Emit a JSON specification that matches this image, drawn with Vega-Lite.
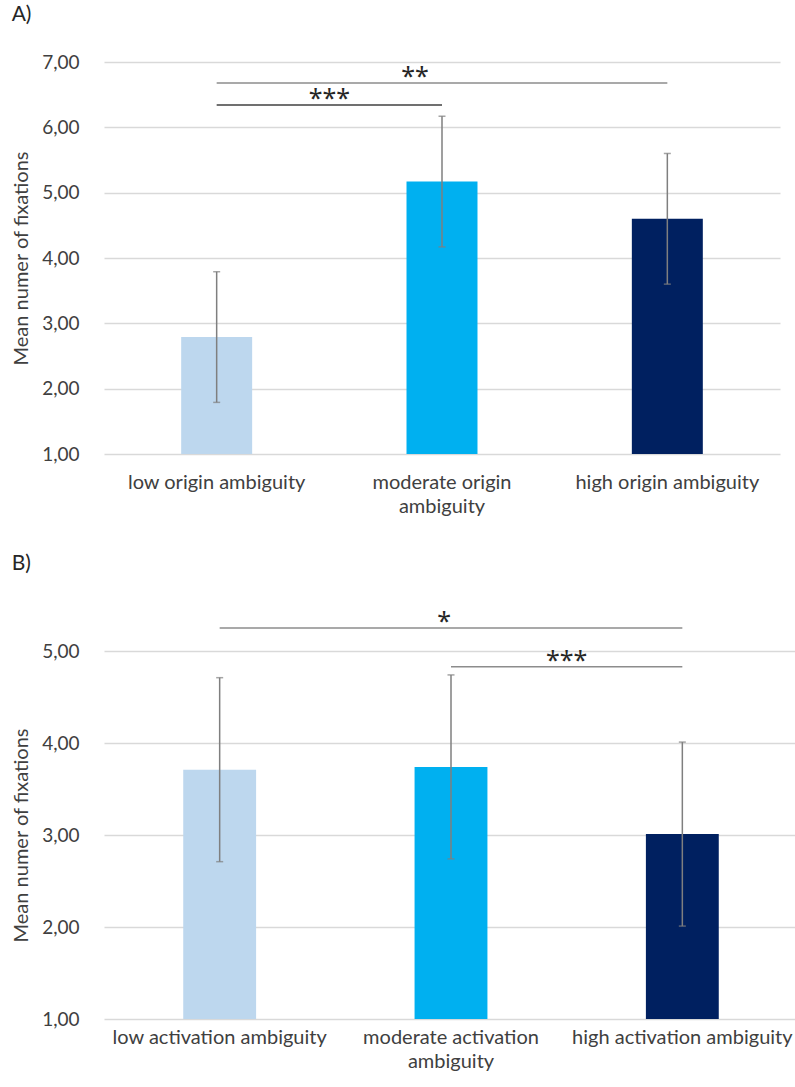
{
  "$schema": "https://vega.github.io/schema/vega-lite/v6.json",
  "padding": {"left": 11, "top": 4, "right": 0, "bottom": 0},
  "background": "white",
  "spacing": 37,
  "config": {
    "font": "Lato",
    "view": {"stroke": null},
    "axis": {
      "labelFont": "Lato",
      "titleFont": "Lato",
      "labelColor": "#404040",
      "titleColor": "#404040",
      "titleFontWeight": "normal",
      "ticks": false,
      "domain": false,
      "labelLimit": 0
    },
    "title": {"font": "Lato", "fontWeight": "normal", "fontSize": 21, "color": "#262626", "anchor": "start", "frame": "bounds"}
  },
  "datasets": {
    "a": [
      {"condition": "low origin ambiguity", "mean": 2.79, "lo": 1.79, "hi": 3.79},
      {"condition": "moderate origin ambiguity", "mean": 5.17, "lo": 4.17, "hi": 6.17},
      {"condition": "high origin ambiguity", "mean": 4.6, "lo": 3.6, "hi": 5.6}
    ],
    "sigA": [
      {"from": "low origin ambiguity", "to": "moderate origin ambiguity", "level": 6.34, "label": "***", "shade": "dark"},
      {"from": "low origin ambiguity", "to": "high origin ambiguity", "level": 6.68, "label": "**", "shade": "light"}
    ],
    "b": [
      {"condition": "low activation ambiguity", "mean": 3.71, "lo": 2.71, "hi": 4.71},
      {"condition": "moderate activation ambiguity", "mean": 3.74, "lo": 2.74, "hi": 4.74},
      {"condition": "high activation ambiguity", "mean": 3.01, "lo": 2.01, "hi": 4.01}
    ],
    "sigB": [
      {"from": "low activation ambiguity", "to": "high activation ambiguity", "level": 5.25, "label": "*"},
      {"from": "moderate activation ambiguity", "to": "high activation ambiguity", "level": 4.83, "label": "***"}
    ]
  },
  "vconcat": [
    {
      "title": {"text": "A)", "offset": 28},
      "width": 676,
      "height": 392,
      "layer": [
        {
          "data": {"name": "a"},
          "mark": {"type": "bar", "width": {"band": 0.315}},
          "encoding": {
            "x": {
              "field": "condition", "type": "nominal",
              "scale": {"domain": ["low origin ambiguity", "moderate origin ambiguity", "high origin ambiguity"], "paddingInner": 0, "paddingOuter": 0},
              "axis": {
                "title": null, "labelAngle": 0, "labelFontSize": 20, "labelPadding": 18, "labelLineHeight": 24,
                "labelExpr": "datum.value == 'moderate origin ambiguity' ? ['moderate origin', 'ambiguity'] : datum.value"
              }
            },
            "y": {
              "field": "mean", "type": "quantitative",
              "scale": {"domain": [1, 7], "zero": false, "nice": false},
              "axis": {
                "title": "Mean numer of fixations", "titleFontSize": 20, "titlePadding": 10,
                "labelFontSize": 19, "labelPadding": 25,
                "values": [1, 2, 3, 4, 5, 6, 7],
                "labelExpr": "replace(format(datum.value, '.2f'), '.', ',')",
                "grid": true, "gridColor": "#d9d9d9", "gridWidth": 1.3
              }
            },
            "y2": {"datum": 1},
            "color": {
              "field": "condition", "type": "nominal",
              "scale": {"domain": ["low origin ambiguity", "moderate origin ambiguity", "high origin ambiguity"], "range": ["#bdd7ee", "#00b0f0", "#002060"]},
              "legend": null
            }
          }
        },
        {
          "data": {"name": "a"},
          "mark": {"type": "rule", "color": "#7f7f7f", "strokeWidth": 1.5},
          "encoding": {
            "x": {"field": "condition", "type": "nominal"},
            "y": {"field": "lo", "type": "quantitative"},
            "y2": {"field": "hi"}
          }
        },
        {
          "data": {"name": "a"},
          "mark": {"type": "tick", "color": "#7f7f7f", "size": 7, "thickness": 1.5},
          "encoding": {
            "x": {"field": "condition", "type": "nominal"},
            "y": {"field": "lo", "type": "quantitative"}
          }
        },
        {
          "data": {"name": "a"},
          "mark": {"type": "tick", "color": "#7f7f7f", "size": 7, "thickness": 1.5},
          "encoding": {
            "x": {"field": "condition", "type": "nominal"},
            "y": {"field": "hi", "type": "quantitative"}
          }
        },
        {
          "data": {"name": "sigA"},
          "mark": {"type": "rule", "strokeWidth": 1.5},
          "encoding": {
            "x": {"field": "from", "type": "nominal"},
            "x2": {"field": "to"},
            "y": {"field": "level", "type": "quantitative"},
            "color": {"field": "shade", "type": "nominal", "scale": {"domain": ["dark", "light"], "range": ["#404040", "#8c8c8c"]}, "legend": null}
          }
        },
        {
          "data": {"name": "sigA"},
          "transform": [{"filter": "datum.label == '***'"}],
          "mark": {"type": "text", "font": "Noto Sans", "fontSize": 25, "color": "#262626", "baseline": "alphabetic", "align": "center", "dy": 2},
          "encoding": {
            "x": {"datum": "moderate origin ambiguity", "bandPosition": 0},
            "y": {"field": "level", "type": "quantitative"},
            "text": {"field": "label"}
          }
        },
        {
          "data": {"name": "sigA"},
          "transform": [{"filter": "datum.label == '**'"}],
          "mark": {"type": "text", "font": "Noto Sans", "fontSize": 25, "color": "#262626", "baseline": "alphabetic", "align": "center", "dy": 2},
          "encoding": {
            "x": {"datum": "moderate origin ambiguity", "bandPosition": 0.38},
            "y": {"field": "level", "type": "quantitative"},
            "text": {"field": "label"}
          }
        }
      ],
      "resolve": {"scale": {"color": "independent"}}
    },
    {
      "title": {"text": "B)", "offset": 36},
      "width": 694,
      "height": 368,
      "layer": [
        {
          "data": {"name": "b"},
          "mark": {"type": "bar", "width": {"band": 0.315}},
          "encoding": {
            "x": {
              "field": "condition", "type": "nominal",
              "scale": {"domain": ["low activation ambiguity", "moderate activation ambiguity", "high activation ambiguity"], "paddingInner": 0, "paddingOuter": 0},
              "axis": {
                "title": null, "labelAngle": 0, "labelFontSize": 20, "labelPadding": 8, "labelLineHeight": 24,
                "labelExpr": "datum.value == 'moderate activation ambiguity' ? ['moderate activation', 'ambiguity'] : datum.value"
              }
            },
            "y": {
              "field": "mean", "type": "quantitative",
              "scale": {"domain": [1, 5], "zero": false, "nice": false},
              "axis": {
                "title": "Mean numer of fixations", "titleFontSize": 20, "titlePadding": 10,
                "labelFontSize": 19, "labelPadding": 25,
                "values": [1, 2, 3, 4, 5],
                "labelExpr": "replace(format(datum.value, '.2f'), '.', ',')",
                "grid": true, "gridColor": "#d9d9d9", "gridWidth": 1.3
              }
            },
            "y2": {"datum": 1},
            "color": {
              "field": "condition", "type": "nominal",
              "scale": {"domain": ["low activation ambiguity", "moderate activation ambiguity", "high activation ambiguity"], "range": ["#bdd7ee", "#00b0f0", "#002060"]},
              "legend": null
            }
          }
        },
        {
          "data": {"name": "b"},
          "mark": {"type": "rule", "color": "#7f7f7f", "strokeWidth": 1.5},
          "encoding": {
            "x": {"field": "condition", "type": "nominal"},
            "y": {"field": "lo", "type": "quantitative"},
            "y2": {"field": "hi"}
          }
        },
        {
          "data": {"name": "b"},
          "mark": {"type": "tick", "color": "#7f7f7f", "size": 7, "thickness": 1.5},
          "encoding": {
            "x": {"field": "condition", "type": "nominal"},
            "y": {"field": "lo", "type": "quantitative"}
          }
        },
        {
          "data": {"name": "b"},
          "mark": {"type": "tick", "color": "#7f7f7f", "size": 7, "thickness": 1.5},
          "encoding": {
            "x": {"field": "condition", "type": "nominal"},
            "y": {"field": "hi", "type": "quantitative"}
          }
        },
        {
          "data": {"name": "sigB"},
          "mark": {"type": "rule", "strokeWidth": 1.5, "color": "#8c8c8c"},
          "encoding": {
            "x": {"field": "from", "type": "nominal"},
            "x2": {"field": "to"},
            "y": {"field": "level", "type": "quantitative"}
          }
        },
        {
          "data": {"name": "sigB"},
          "transform": [{"filter": "datum.label == '*'"}],
          "mark": {"type": "text", "font": "Noto Sans", "fontSize": 25, "color": "#262626", "baseline": "alphabetic", "align": "center", "dy": 2},
          "encoding": {
            "x": {"datum": "moderate activation ambiguity", "bandPosition": 0.47},
            "y": {"field": "level", "type": "quantitative"},
            "text": {"field": "label"}
          }
        },
        {
          "data": {"name": "sigB"},
          "transform": [{"filter": "datum.label == '***'"}],
          "mark": {"type": "text", "font": "Noto Sans", "fontSize": 25, "color": "#262626", "baseline": "alphabetic", "align": "center", "dy": 2},
          "encoding": {
            "x": {"datum": "high activation ambiguity", "bandPosition": 0},
            "y": {"field": "level", "type": "quantitative"},
            "text": {"field": "label"}
          }
        }
      ],
      "resolve": {"scale": {"color": "independent"}}
    }
  ]
}
